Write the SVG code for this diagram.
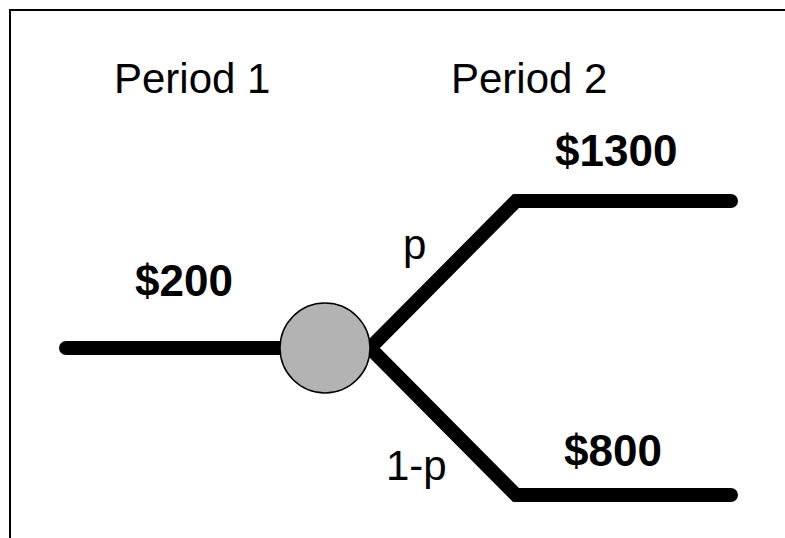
<svg xmlns="http://www.w3.org/2000/svg" width="785" height="538" viewBox="0 0 785 538">
<style>
.frame{fill:none;stroke:#000;stroke-width:2}
.edge{fill:none;stroke:#000;stroke-width:14;stroke-linecap:round;stroke-linejoin:miter}
.lbl{font-family:"Liberation Sans",Arial,sans-serif;font-size:42px;fill:#000}
.val{font-family:"Liberation Sans",Arial,sans-serif;font-size:44px;font-weight:bold;fill:#000}
</style>
<polyline class="frame" points="10,538 10,10 785,10"/>
<g id="connectors">
<line class="edge" x1="66" y1="348" x2="300" y2="348"/>
<polyline class="edge" points="370,348 516,201 731,201"/>
<polyline class="edge" points="370,348 516,495 731,495"/>
</g>
<g id="chance-node">
<circle cx="325" cy="348" r="45" fill="#b3b3b3" stroke="#000" stroke-width="1.5"/>
</g>
<g id="labels">
<text class="lbl" x="114" y="93">Period 1</text>
<text class="lbl" x="451" y="93">Period 2</text>
<text class="val" x="555" y="166">$1300</text>
<text class="val" x="135" y="296">$200</text>
<text class="val" x="564" y="466">$800</text>
<text class="lbl" x="403" y="259">p</text>
<text class="lbl" x="386" y="480">1-p</text>
</g>
</svg>
